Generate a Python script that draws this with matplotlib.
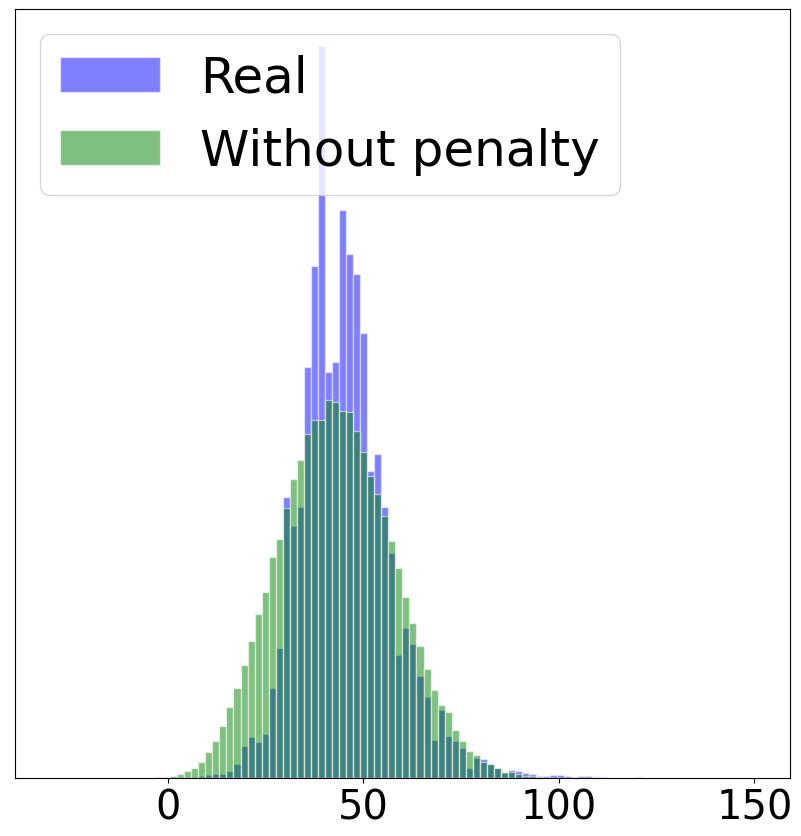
import numpy as np
import matplotlib
matplotlib.use("Agg")
import matplotlib.pyplot as plt

# 100 equal-width bins from -30 to 150
bin_edges = np.linspace(-30, 150, 101)

# Bar heights (arbitrary units), bins 17..83
real_counts = [0] * 17 + [
    0.3, 0.5, 0.5, 1.0, 1.7, 3.0, 4.5, 4.5, 7.5, 14.5,
    32, 41, 36.5, 44.5, 90, 130.5, 282, 252.5, 272, 411.7,
    513, 734, 407.3, 417.3, 569, 525, 505, 445.7, 307.3, 325,
    271.3, 225, 123, 150.5, 134.5, 102.3, 81.3, 38.2, 68.3, 42.3,
    37.3, 29.7, 10.3, 20.3, 18.7, 14.3, 10.3, 5.0, 7.7, 7.5,
    5.5, 3.7, 2.5, 2.5, 3.5, 3.5, 2.3, 1.0, 2.3, 2.3,
    1.3, 0.8, 0.5, 0.3, 0.3, 0.3, 1.0,
] + [0] * 16

# bins 13..71
no_penalty_counts = [0] * 13 + [
    0.3, 0.5, 0.7, 1.0, 1.7, 3.7, 7.0, 9.7, 16, 26,
    36.7, 51.7, 70.7, 90, 113, 137, 164, 186, 221, 240,
    271, 300, 319, 344.5, 358.3, 358.3, 379, 377.3, 368.3, 366.7,
    347.7, 326.3, 303, 284.7, 262.3, 237.3, 210.7, 181.3, 155.7, 132.3,
    109.5, 88.3, 73.3, 66.3, 48.5, 37.3, 27, 23.3, 16.3, 14.3,
    10.3, 6.5, 5.7, 4.5, 2.5, 2.0, 1.0, 0.5, 0.3,
] + [0] * 28

labels = ["Real", "Without penalty"]
xticks = [0, 50, 100, 150]

bin_centers = 0.5 * (bin_edges[:-1] + bin_edges[1:])

fig = plt.figure(figsize=(8.01, 8.37), dpi=100)
ax = fig.add_axes([15.3 / 801, 58 / 837, (789.5 - 15.3) / 801, 769 / 837])

ax.hist(bin_centers, bins=bin_edges, weights=real_counts, color="blue",
        alpha=0.5, edgecolor="white", linewidth=1.0, label=labels[0])
ax.hist(bin_centers, bins=bin_edges, weights=no_penalty_counts, color="green",
        alpha=0.5, edgecolor="white", linewidth=1.0, label=labels[1])

ax.set_xticks(xticks)
ax.set_xticklabels([str(t) for t in xticks])
ax.tick_params(axis="x", labelsize=28.8)
ax.set_yticks([])
ax.legend(loc="upper left", fontsize=36)

fig.savefig("out.png", dpi=100)
